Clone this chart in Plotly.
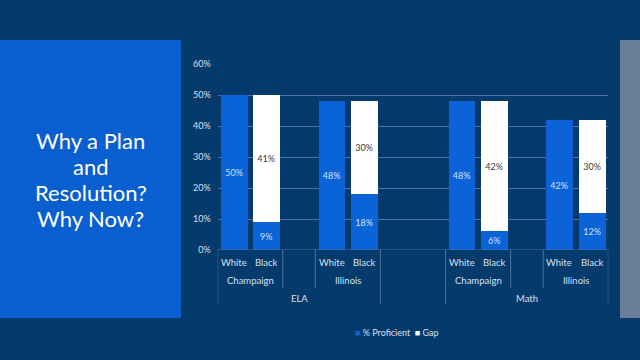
import plotly.graph_objects as go

# ---- data ----
subjects = ["ELA", "Math"]
regions = ["Champaign", "Illinois"]
races = ["White", "Black"]
proficient = {  # subject -> region -> [White, Black]
    "ELA": {"Champaign": [50, 9], "Illinois": [48, 18]},
    "Math": {"Champaign": [48, 6], "Illinois": [42, 12]},
}
gap = {
    "ELA": {"Champaign": [None, 41], "Illinois": [None, 30]},
    "Math": {"Champaign": [None, 42], "Illinois": [None, 30]},
}
series_names = ["% Proficient", "Gap"]
y_ticks = [0, 10, 20, 30, 40, 50, 60]
y_tick_labels = ["0%", "10%", "20%", "30%", "40%", "50%", "60%"]
title_lines = ["Why a Plan", "and", "Resolution?", "Why Now?"]

# ---- style ----
BG = "#053a6d"
PANEL = "#0a5fd0"
STRIP = "#6b7f9b"
BAR_BLUE = "#0b63d8"
GAP_WHITE = "#ffffff"
GRID = "#4e72a2"
TXT = "#d3e0f0"
FONT = "Lato"
W, H = 640, 360

def py(px):
    return 1 - px / H

# positions of slots (layout only)
xs, prof_vals, gap_vals, race_lbl = [], [], [], []
for gi, s in enumerate(subjects):
    for ri, r in enumerate(regions):
        for k, race in enumerate(races):
            xs.append(gi * 7 + ri * 3 + k)
            prof_vals.append(proficient[s][r][k])
            gap_vals.append(gap[s][r][k])
            race_lbl.append(race)

fig = go.Figure()
fig.add_bar(x=xs, y=prof_vals, name=series_names[0], marker_color=BAR_BLUE,
            marker_line_width=0,
            width=0.82, text=[f"{v}%" for v in prof_vals], textposition="inside",
            insidetextanchor="middle", textangle=0,
            textfont=dict(color="#cfe2ff", size=9, family=FONT))
fig.add_bar(x=xs, y=gap_vals, name=series_names[1], marker_color=GAP_WHITE,
            marker_line_width=0,
            width=0.82, text=[f"{v}%" if v is not None else "" for v in gap_vals],
            textposition="inside", insidetextanchor="middle", textangle=0,
            textfont=dict(color="#3a3a3a", size=9, family=FONT))

x0_px, x1_px = 217.7, 608.3
fig.update_layout(
    width=W, height=H, margin=dict(l=0, r=0, t=0, b=0, pad=0, autoexpand=False),
    paper_bgcolor=BG, plot_bgcolor="rgba(0,0,0,0)",
    barmode="stack", bargap=0,
    font=dict(family=FONT, color=TXT, size=9),
    xaxis=dict(domain=[x0_px / W, x1_px / W], range=[-0.5, 11.5],
               showticklabels=False, showgrid=False, zeroline=False,
               automargin=False),
    yaxis=dict(domain=[py(250), py(64)], range=[0, 60], tickmode="array",
               tickvals=y_ticks, ticktext=y_tick_labels,
               showgrid=True, gridcolor=GRID, gridwidth=1,
               zeroline=False, tickfont=dict(size=9, color=TXT),
               ticklabelstandoff=6, showline=False, automargin=False),
    showlegend=False,
)

shapes = [
    dict(type="rect", xref="paper", yref="paper", x0=0, x1=181 / W,
         y0=py(318), y1=py(40), fillcolor=PANEL, line_width=0, layer="below"),
    dict(type="rect", xref="paper", yref="paper", x0=620 / W, x1=1,
         y0=py(318), y1=py(40), fillcolor=STRIP, line_width=0, layer="below"),
]
annotations = []
for i, line in enumerate(title_lines):
    annotations.append(dict(text=line, xref="paper", yref="paper",
                            x=90.5 / W, y=py(141 + i * 25.7), xanchor="center",
                            yanchor="middle", showarrow=False,
                            font=dict(size=22, color="#ffffff", family=FONT)))
# hierarchical category labels & separators
for x, lbl in zip(xs, race_lbl):
    annotations.append(dict(text=lbl, x=x, y=py(262), xref="x", yref="paper",
                            xanchor="center", yanchor="middle",
                            showarrow=False, font=dict(size=9.5, color=TXT)))
line_style = dict(color=GRID, width=1)
for gi, s in enumerate(subjects):
    g0 = gi * 7 - 0.5
    g1 = gi * 7 + 4.5
    annotations.append(dict(text=s, x=(g0 + g1) / 2, y=py(298), xref="x",
                            yref="paper", xanchor="center", yanchor="middle",
                            showarrow=False, font=dict(size=9.5, color=TXT)))
    for xv in (g0, g1):
        shapes.append(dict(type="line", xref="x", yref="paper", x0=xv, x1=xv,
                           y0=py(250), y1=py(304), line=line_style))
    for ri, r in enumerate(regions):
        r0 = gi * 7 + ri * 3 - 0.5
        r1 = r0 + 2
        annotations.append(dict(text=r, x=(r0 + r1) / 2, y=py(280), xref="x",
                                yref="paper", xanchor="center",
                                yanchor="middle", showarrow=False,
                                font=dict(size=9.5, color=TXT)))
        inner = r1 if ri == 0 else r0
        shapes.append(dict(type="line", xref="x", yref="paper", x0=inner,
                           x1=inner, y0=py(250), y1=py(288), line=line_style))
# baseline
shapes.append(dict(type="line", xref="x", yref="y", x0=-0.5, x1=11.5, y0=0,
                   y1=0, line=line_style))

# compact legend (square swatch + name), built from the trace names/colours
legend_text = "  ".join(
    f'<span style="color:{t.marker.color}">■</span> {t.name}' for t in fig.data
)
annotations.append(dict(text=legend_text, xref="paper", yref="paper",
                        x=396.5 / W, y=py(332), xanchor="center",
                        yanchor="middle", showarrow=False,
                        font=dict(size=9, color=TXT)))

fig.update_layout(shapes=shapes, annotations=annotations)
fig.write_html("out.html", config={"displayModeBar": False},
               post_script="document.body.style.margin='0';"
                           "document.body.style.background='" + BG + "';")
